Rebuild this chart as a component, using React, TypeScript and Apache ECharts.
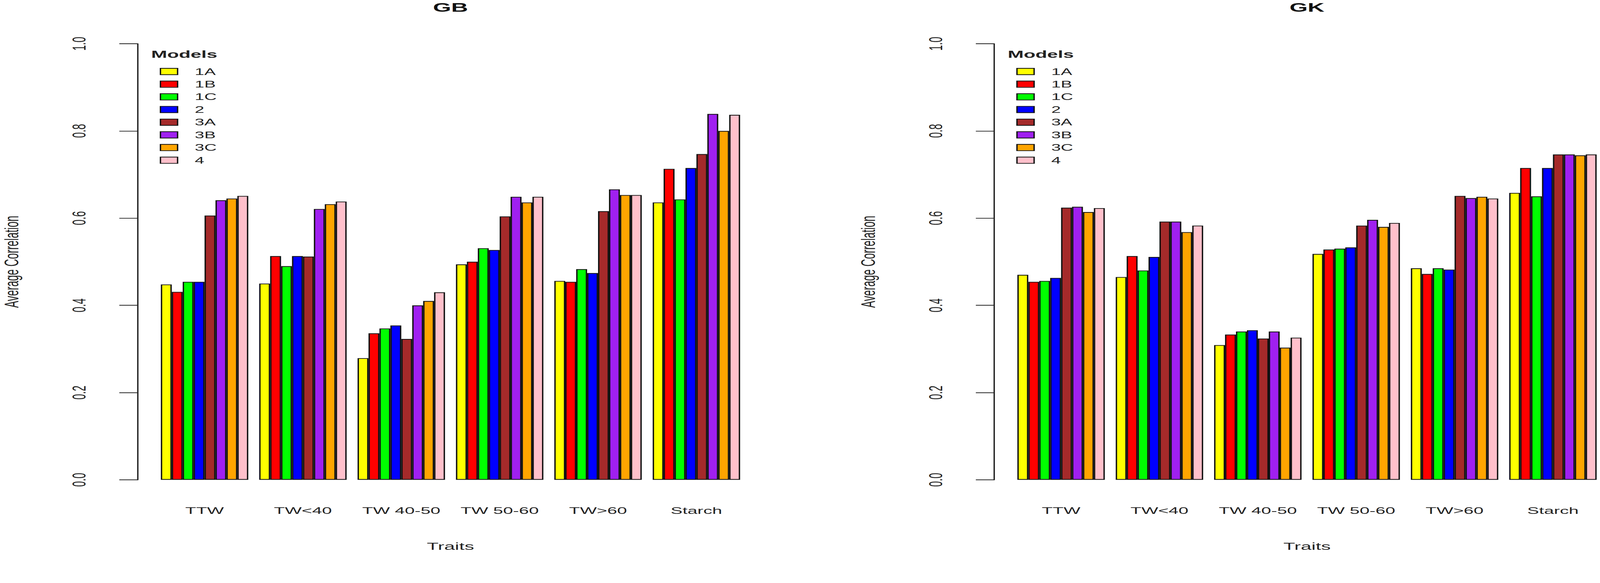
import React, { useEffect, useRef, useState } from "react";
import * as echarts from "echarts";

const categories = ["TTW", "TW<40", "TW 40-50", "TW 50-60", "TW>60", "Starch"];
const models = ["1A", "1B", "1C", "2", "3A", "3B", "3C", "4"];
const modelColors = ["#FFFF00", "#FF0000", "#00FF00", "#0000FF", "#A52A2A", "#A020F0", "#FFA500", "#FFC0CB"];
const yTickLabels = ["0.0", "0.2", "0.4", "0.6", "0.8", "1.0"];
const panelTitles = ["GB", "GK"];

// GB panel: values per model across traits
const gb1A = [0.448, 0.45, 0.279, 0.494, 0.456, 0.636];
const gb1B = [0.431, 0.513, 0.336, 0.5, 0.454, 0.713];
const gb1C = [0.454, 0.49, 0.347, 0.531, 0.483, 0.643];
const gb2 = [0.454, 0.513, 0.354, 0.527, 0.474, 0.715];
const gb3A = [0.606, 0.512, 0.323, 0.604, 0.616, 0.747];
const gb3B = [0.641, 0.621, 0.4, 0.649, 0.666, 0.839];
const gb3C = [0.645, 0.632, 0.41, 0.636, 0.653, 0.8];
const gb4 = [0.651, 0.638, 0.43, 0.649, 0.653, 0.837];

// GK panel
const gk1A = [0.47, 0.465, 0.309, 0.518, 0.485, 0.658];
const gk1B = [0.454, 0.513, 0.333, 0.528, 0.472, 0.715];
const gk1C = [0.456, 0.48, 0.34, 0.53, 0.485, 0.65];
const gk2 = [0.463, 0.511, 0.343, 0.533, 0.482, 0.715];
const gk3A = [0.624, 0.592, 0.324, 0.583, 0.651, 0.746];
const gk3B = [0.626, 0.592, 0.34, 0.596, 0.646, 0.746];
const gk3C = [0.614, 0.568, 0.303, 0.58, 0.649, 0.744];
const gk4 = [0.623, 0.583, 0.326, 0.589, 0.645, 0.746];

const gbData = [gb1A, gb1B, gb1C, gb2, gb3A, gb3B, gb3C, gb4];
const gkData = [gk1A, gk1B, gk1C, gk2, gk3A, gk3B, gk3C, gk4];
const panelData = [gbData, gkData];

const TARGET_W = 4317;
const STRETCH = 1.85;
const INNER_W = 2340;
const H = 1493;
const PANEL_OFFSET = 1249.2;
const GRID_LEFT = 226.6;
const GRID_W = 860.8;
const GRID_TOP = 118;
const GRID_H = 1177;
const FONT = "'Liberation Sans', Arial, Helvetica, sans-serif";

export default function App() {
  const ref = useRef<HTMLDivElement>(null);
  const [k] = useState(() => (typeof window !== "undefined" && window.innerWidth ? window.innerWidth / TARGET_W : 1));

  useEffect(() => {
    if (!ref.current) return;
    const chart = echarts.init(ref.current, undefined, { renderer: "svg" });

    const grids: any[] = [];
    const xAxes: any[] = [];
    const yAxes: any[] = [];
    const legends: any[] = [];
    const graphics: any[] = [];
    const series: any[] = [];

    for (let p = 0; p < 2; p++) {
      const left = GRID_LEFT + p * PANEL_OFFSET;
      grids.push({
        left,
        top: GRID_TOP,
        width: GRID_W,
        height: GRID_H,
        containLabel: false,
        outerBoundsMode: "none",
      });
      xAxes.push({
        type: "category",
        gridIndex: p,
        data: categories,
        boundaryGap: true,
        axisLine: { show: false },
        axisTick: { show: false },
        axisLabel: { fontSize: 26, color: "#222", fontFamily: FONT, margin: 70, interval: 0 },
        name: "Traits",
        nameLocation: "middle",
        nameGap: 165,
        nameTextStyle: { fontSize: 28, color: "#222", fontFamily: FONT },
      });
      yAxes.push({
        type: "value",
        gridIndex: p,
        min: 0,
        max: 1,
        interval: 0.2,
        offset: 25.6,
        axisLine: { show: true, lineStyle: { color: "#222", width: 2 } },
        axisTick: { show: true, length: 27, inside: false, lineStyle: { color: "#222", width: 2 } },
        splitLine: { show: false },
        axisLabel: {
          rotate: 90,
          fontSize: 27,
          color: "#222",
          fontFamily: FONT,
          margin: 72,
          formatter: (_v: number, i: number) => yTickLabels[i],
        },
        name: "Average Correlation",
        nameLocation: "middle",
        nameRotate: 90,
        nameGap: 170,
        nameTextStyle: { fontSize: 28, color: "#222", fontFamily: FONT },
      });
      legends.push({
        data: models,
        orient: "vertical",
        left: 228 + p * PANEL_OFFSET,
        top: 175,
        icon: "rect",
        itemWidth: 25,
        itemHeight: 17,
        itemGap: 8.2,
        selectedMode: false,
        textStyle: { fontSize: 25, lineHeight: 26, color: "#222", fontFamily: FONT, padding: [0, 0, 0, 20] },
      });
      graphics.push({
        type: "text",
        x: GRID_LEFT + GRID_W / 2 + p * PANEL_OFFSET,
        y: 20,
        style: {
          text: panelTitles[p],
          fontSize: 34,
          fontWeight: "bold",
          fontFamily: FONT,
          fill: "#111",
          align: "center",
          verticalAlign: "middle",
        },
      });
      graphics.push({
        type: "text",
        x: 220.5 + p * PANEL_OFFSET,
        y: 146,
        style: {
          text: "Models",
          fontSize: 28,
          fontWeight: "bold",
          fontFamily: FONT,
          fill: "#222",
          align: "left",
          verticalAlign: "middle",
        },
      });
      for (let m = 0; m < models.length; m++) {
        series.push({
          type: "bar",
          name: models[m],
          xAxisIndex: p,
          yAxisIndex: p,
          data: panelData[p][m],
          barGap: "0%",
          barCategoryGap: "11.111%",
          silent: true,
          itemStyle: { color: modelColors[m], borderColor: "#111", borderWidth: 2 },
          emphasis: { disabled: true },
        });
      }
    }

    chart.setOption({
      animation: false,
      backgroundColor: "#fff",
      grid: grids,
      xAxis: xAxes,
      yAxis: yAxes,
      legend: legends,
      graphic: graphics,
      series,
    });

    return () => {
      chart.dispose();
    };
  }, []);

  return (
    <div
      style={{
        position: "fixed",
        left: 0,
        top: 0,
        right: 0,
        bottom: 0,
        overflow: "hidden",
        background: "#fff",
      }}
    >
      <div
        style={{
          position: "absolute",
          left: 0,
          top: 0,
          width: TARGET_W,
          height: H,
          overflow: "hidden",
          background: "#fff",
          transform: `scale(${k})`,
          transformOrigin: "0 0",
        }}
      >
        <div
          ref={ref}
          style={{
            width: INNER_W,
            height: H,
            transform: `scaleX(${STRETCH})`,
            transformOrigin: "0 0",
          }}
        />
      </div>
    </div>
  );
}
